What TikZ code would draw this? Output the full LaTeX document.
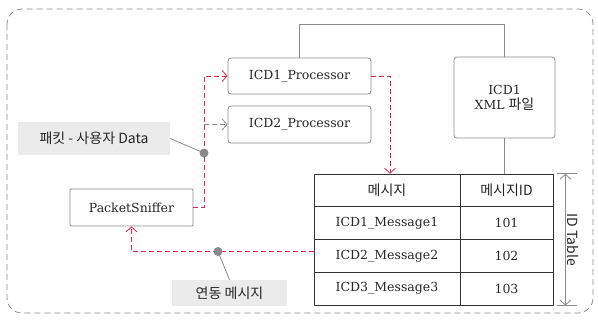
\documentclass[tikz,border=0pt]{standalone}
\usepackage{fontspec}
\setmainfont{DejaVu Serif}
\newfontfamily\kr{Noto Sans CJK KR}
\usetikzlibrary{arrows.meta}
\definecolor{linkred}{HTML}{E0284A}
\definecolor{boxgray}{HTML}{8A8A8A}
\definecolor{notegray}{HTML}{EBEBEB}
\begin{document}
\begin{tikzpicture}[x=1pt,y=-1pt,font=\fontsize{12.5}{15}\selectfont,text=black!85]
        \tikzstyle{module}=[draw=boxgray,thick,rounded corners=3pt,minimum width=143pt,minimum height=36pt]
        \tikzstyle{cell}=[draw=black!80,thick,minimum height=32.75pt]
        \tikzstyle{callout}=[fill=notegray,inner sep=0pt]
        \tikzstyle{link}=[draw=linkred,thick,dash pattern=on 5pt off 3pt,-{Straight Barb[length=5pt,width=11pt]}]
        \tikzstyle{feed}=[draw=boxgray,thick,dash pattern=on 5pt off 3pt,-{Straight Barb[length=5pt,width=11pt]}]
        \tikzstyle{wire}=[draw=boxgray,thick]
        \tikzstyle{tap}=[fill=boxgray,circle,inner sep=0pt,minimum size=9pt]
        \useasboundingbox (0,0) rectangle (598,322);
        \draw[boxgray,thick,dash pattern=on 6pt off 4pt,rounded corners=15pt] (7,9) rectangle (593,313);
       \begin{scope}
         \node [module] (proc1) at (299.5,76) {ICD1\_Processor};
         \node [module,minimum height=37pt] (proc2) at (299.5,124.5) {ICD2\_Processor};
         \node [module,minimum width=101pt,minimum height=81pt,align=center] (xml) at (504.5,97.5) {ICD1\\XML {\kr\fontsize{14}{16}\selectfont 파일}};
         \node [module,rounded corners=1pt,minimum width=123pt,minimum height=37pt] (sniffer) at (131.5,207.5) {PacketSniffer};
         % ID table
         \node [cell,minimum width=146pt] (h1) at (387,190.5) {\kr\fontsize{14}{16}\selectfont 메시지};
         \node [cell,minimum width=93pt] (h2) at (506.5,190.5) {\kr\fontsize{14}{16}\selectfont 메시지ID};
         \node [cell,minimum width=146pt] (r1c1) at (387,223.25) {ICD1\_Message1};
         \node [cell,minimum width=93pt] (r1c2) at (506.5,223.25) {101};
         \node [cell,minimum width=146pt] (r2c1) at (387,256) {ICD2\_Message2};
         \node [cell,minimum width=93pt] (r2c2) at (506.5,256) {102};
         \node [cell,minimum width=146pt] (r3c1) at (387,288.75) {ICD3\_Message3};
         \node [cell,minimum width=93pt] (r3c2) at (506.5,288.75) {103};
         % callouts
         \node [callout,minimum width=152pt,minimum height=33pt] (pkt) at (94,138.5) {\kr\fontsize{14}{16}\selectfont 패킷 - 사용자 Data};
         \node [callout,minimum width=115pt,minimum height=26pt] (sync) at (229.5,293) {\kr\fontsize{14}{16}\selectfont 연동 메시지};
         \coordinate (bus) at (204,153);
         \coordinate (back) at (218,251.5);
         \path[wire] (proc1.north) -- ++(0,-33) -| (xml.north);
         \path[wire] (xml.south) -- (xml.south |- h2.north);
         \path[link] (sniffer.east) -| (bus) |- (proc1.west);
         \path[feed] (bus |- proc2.west) -- (proc2.west);
         \path[link] (proc1.east) -| ([xshift=3pt]h1.north);
         \path[link] ([yshift=4.5pt]r2c1.west) -| (sniffer.south);
         \path[wire] (pkt.east) -- (bus);
         \path[wire] (sync.north) -- (back);
         \node [tap] at (bus) {};
         \node [tap] at (back) {};
         % dimension
         \path[wire] ([xshift=4pt]h2.north east) -- ++(20,0);
         \path[wire] ([xshift=4pt]r3c2.south east) -- ++(20,0);
         \path[wire,{Straight Barb[length=5pt,width=11pt]}-{Straight Barb[length=5pt,width=11pt]}] ([xshift=12pt]h2.north east) -- node[anchor=south,rotate=-90,inner sep=2pt,font=\fontsize{14}{16}\kr] {ID Table} ([xshift=12pt]r3c2.south east);
        \end{scope}
      \end{tikzpicture}
\end{document}
